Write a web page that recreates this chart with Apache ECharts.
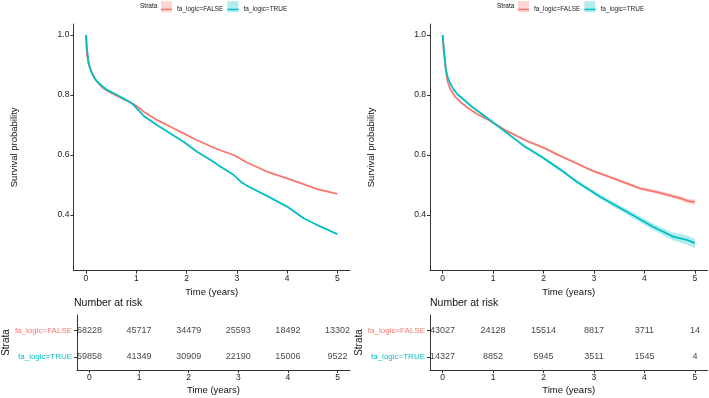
<!DOCTYPE html>
<html>
<head>
<meta charset="utf-8">
<script src="https://cdn.jsdelivr.net/npm/echarts@6/dist/echarts.min.js"></script>
<style>
  html, body { margin: 0; padding: 0; background: #fff; }
  #chart { width: 709px; height: 398px; }
</style>
</head>
<body>
<div id="chart"></div>
<script>
// strata and risk table
const strata = ['fa_logic=FALSE', 'fa_logic=TRUE']
const riskTimes = [0, 1, 2, 3, 4, 5]
const leftRiskFalse = [68228, 45717, 34479, 25593, 18492, 13302]
const leftRiskTrue = [59858, 41349, 30909, 22190, 15006, 9522]
const rightRiskFalse = [43027, 24128, 15514, 8817, 3711, 14]
const rightRiskTrue = [14327, 8852, 5945, 3511, 1545, 4]

// left panel curves
const leftTimeFalse = [0, 0.02, 0.05, 0.09, 0.14, 0.19, 0.27, 0.35, 0.5, 0.62, 0.75, 0.88, 1.0, 1.15, 1.41, 1.68, 1.94, 2.21, 2.48, 2.68, 2.94, 3.21, 3.61, 4.0, 4.27, 4.6, 5.0]
const leftSurvFalse = [1.0, 0.935, 0.905, 0.886, 0.866, 0.851, 0.835, 0.822, 0.807, 0.797, 0.786, 0.776, 0.764, 0.744, 0.717, 0.694, 0.672, 0.649, 0.629, 0.615, 0.600, 0.574, 0.544, 0.522, 0.506, 0.486, 0.47]
const leftTimeTrue = [0, 0.02, 0.05, 0.08, 0.12, 0.17, 0.22, 0.32, 0.42, 0.62, 0.75, 0.88, 0.94, 1.0, 1.15, 1.41, 1.68, 1.94, 2.21, 2.48, 2.68, 2.94, 3.1, 3.24, 3.61, 4.0, 4.33, 4.67, 5.0]
const leftSurvTrue = [1.0, 0.956, 0.911, 0.89, 0.872, 0.857, 0.845, 0.83, 0.817, 0.8, 0.788, 0.776, 0.768, 0.757, 0.73, 0.7, 0.672, 0.644, 0.611, 0.583, 0.561, 0.533, 0.508, 0.494, 0.463, 0.428, 0.389, 0.361, 0.336]

// right panel curves with CI half widths
const rightTimeFalse = [0, 0.02, 0.04, 0.07, 0.1, 0.15, 0.25, 0.38, 0.51, 0.7, 0.91, 1.24, 1.63, 2.03, 2.33, 2.62, 2.99, 3.32, 3.91, 4.31, 4.7, 4.87, 5.0]
const rightSurvFalse = [1.0, 0.95, 0.922, 0.875, 0.844, 0.82, 0.794, 0.773, 0.756, 0.735, 0.717, 0.683, 0.65, 0.622, 0.597, 0.575, 0.546, 0.526, 0.489, 0.474, 0.456, 0.446, 0.443]
const rightHalfFalse = [0, 0.002, 0.002, 0.002, 0.002, 0.002, 0.002, 0.002, 0.002, 0.002, 0.002, 0.003, 0.003, 0.003, 0.003, 0.004, 0.004, 0.004, 0.005, 0.006, 0.007, 0.008, 0.009]
const rightTimeTrue = [0, 0.03, 0.06, 0.1, 0.15, 0.22, 0.31, 0.45, 0.58, 0.75, 0.91, 1.24, 1.63, 1.96, 2.33, 2.66, 3.12, 3.65, 4.17, 4.57, 4.84, 5.0]
const rightSurvTrue = [1.0, 0.944, 0.889, 0.86, 0.839, 0.818, 0.8, 0.78, 0.761, 0.74, 0.72, 0.678, 0.628, 0.594, 0.552, 0.511, 0.461, 0.411, 0.361, 0.328, 0.317, 0.306]
const rightHalfTrue = [0, 0.003, 0.003, 0.003, 0.003, 0.003, 0.003, 0.003, 0.003, 0.003, 0.004, 0.004, 0.005, 0.005, 0.006, 0.006, 0.007, 0.009, 0.011, 0.013, 0.015, 0.016]

const RED = '#F8766D'
const TEAL = '#00BFC4'
const FONT = 'Liberation Sans, Arial, sans-serif'
const ticks = [0, 1, 2, 3, 4, 5]

const zip = (xs, ys) => xs.map((x, i) => [x, ys[i]])

const axisLine = {show: true, onZero: false, lineStyle: {color: '#333', width: 1}}
const axisTick = (vals) => ({show: true, length: 3, lineStyle: {color: '#333'}, customValues: vals})

const timeAxis = (grid) => ({
  type: 'value', gridIndex: grid, min: -0.25, max: 5.25,
  axisLine, axisTick: axisTick(ticks), splitLine: {show: false},
  axisLabel: {customValues: ticks, fontSize: 8.5, color: '#1a1a1a', margin: 3},
  name: 'Time (years)', nameLocation: 'middle', nameGap: 15,
  nameTextStyle: {fontSize: 9.5, color: '#111'},
})

const survAxis = (grid) => ({
  type: 'value', gridIndex: grid, min: 0.2143, max: 1.0367,
  axisLine, axisTick: axisTick([0.4, 0.6, 0.8, 1.0]), splitLine: {show: false},
  axisLabel: {customValues: [0.4, 0.6, 0.8, 1.0], formatter: (v) => v.toFixed(1), fontSize: 8.5, color: '#1a1a1a', margin: 4},
  name: 'Survival probability', nameLocation: 'middle', nameGap: 54,
  nameTextStyle: {fontSize: 9.5, color: '#111'},
})

const strataAxis = (grid) => ({
  type: 'value', gridIndex: grid, inverse: true, min: 0.4, max: 2.5,
  axisLine, axisTick: axisTick([1, 2]), splitLine: {show: false},
  axisLabel: {
    customValues: [1, 2], margin: 5,
    formatter: (v) => (v === 1 ? '{f|' + strata[0] + '}' : '{t|' + strata[1] + '}'),
    rich: {f: {color: RED, fontSize: 8, fontFamily: FONT}, t: {color: TEAL, fontSize: 8, fontFamily: FONT}},
  },
  name: 'Strata', nameLocation: 'middle', nameGap: 60,
  nameTextStyle: {fontSize: 10, color: '#111'},
})

const curve = (name, x, y, data, color) => ({
  name, type: 'line', xAxisIndex: x, yAxisIndex: y, data,
  showSymbol: false, symbol: 'none',
  lineStyle: {color, width: 1.8}, itemStyle: {color}, z: 3,
})

// confidence band drawn as one polygon through the axis scales
const band = (x, y, times, surv, half, fill) => {
  const data = times.map((t, i) => [t, surv[i] - half[i], surv[i] + half[i]])
  return {
    type: 'custom', xAxisIndex: x, yAxisIndex: y, data, z: 2, silent: true,
    encode: {x: 0, y: [1, 2]},
    renderItem: (params, api) => {
      if (params.dataIndex !== 0) return
      const upper = data.map((d) => api.coord([d[0], d[2]]))
      const lower = data.map((d) => api.coord([d[0], d[1]])).reverse()
      return {type: 'polygon', shape: {points: upper.concat(lower)}, style: {fill}}
    },
  }
}

const risk = (x, y, row, counts) => ({
  type: 'scatter', xAxisIndex: x, yAxisIndex: y, symbolSize: 1, itemStyle: {color: 'rgba(0,0,0,0)'},
  data: riskTimes.map((t, i) => [t, row, counts[i]]),
  label: {show: true, position: 'inside', formatter: (p) => String(p.value[2]), color: '#111', fontSize: 9, fontFamily: FONT},
})

const legendPair = (left) => [
  {
    left, top: 1.2, padding: 0, itemGap: 4, icon: 'rect', itemWidth: 11, itemHeight: 11, selectedMode: false,
    data: [
      {name: strata[0], itemStyle: {color: 'rgba(248,118,109,0.3)', borderWidth: 0}},
      {name: strata[1], itemStyle: {color: 'rgba(0,191,196,0.3)', borderWidth: 0}},
    ],
    textStyle: {color: 'rgba(0,0,0,0)', fontSize: 6.5, fontFamily: FONT},
  },
  {
    left, top: 5.95, padding: 0, itemGap: 4, icon: 'rect', itemWidth: 11, itemHeight: 1.5, selectedMode: false,
    data: [
      {name: strata[0], itemStyle: {color: RED, borderWidth: 0}},
      {name: strata[1], itemStyle: {color: TEAL, borderWidth: 0}},
    ],
    textStyle: {color: '#222', fontSize: 6.5, fontFamily: FONT},
  },
]

const label = (text, left, top, size) => ({
  text, left, top, padding: 0,
  textStyle: {fontSize: size, fontWeight: 'normal', color: '#111', fontFamily: FONT},
})

const chart = echarts.init(document.getElementById('chart'), null, {renderer: 'canvas'})
chart.setOption({
  animation: false,
  backgroundColor: '#fff',
  textStyle: {fontFamily: FONT},
  title: [
    label('Strata', 140, 3, 6.5),
    label('Strata', 497, 3, 6.5),
    label('Number at risk', 74, 298, 10.5),
    label('Number at risk', 430, 298, 10.5),
  ],
  legend: [...legendPair(161), ...legendPair(518)],
  grid: [
    {left: 73.4, top: 24, width: 276.5, height: 246.7},
    {left: 430, top: 24, width: 277.5, height: 246.7},
    {left: 73.4, top: 315, width: 276.5, height: 55},
    {left: 430, top: 315, width: 277.5, height: 55},
  ],
  xAxis: [timeAxis(0), timeAxis(1), timeAxis(2), timeAxis(3)],
  yAxis: [survAxis(0), survAxis(1), strataAxis(2), strataAxis(3)],
  series: [
    curve(strata[0], 0, 0, zip(leftTimeFalse, leftSurvFalse), RED),
    curve(strata[1], 0, 0, zip(leftTimeTrue, leftSurvTrue), TEAL),
    band(1, 1, rightTimeFalse, rightSurvFalse, rightHalfFalse, 'rgba(248,118,109,0.3)'),
    band(1, 1, rightTimeTrue, rightSurvTrue, rightHalfTrue, 'rgba(0,191,196,0.3)'),
    curve(strata[0], 1, 1, zip(rightTimeFalse, rightSurvFalse), RED),
    curve(strata[1], 1, 1, zip(rightTimeTrue, rightSurvTrue), TEAL),
    risk(2, 2, 1, leftRiskFalse),
    risk(2, 2, 2, leftRiskTrue),
    risk(3, 3, 1, rightRiskFalse),
    risk(3, 3, 2, rightRiskTrue),
  ],
})
</script>
</body>
</html>
